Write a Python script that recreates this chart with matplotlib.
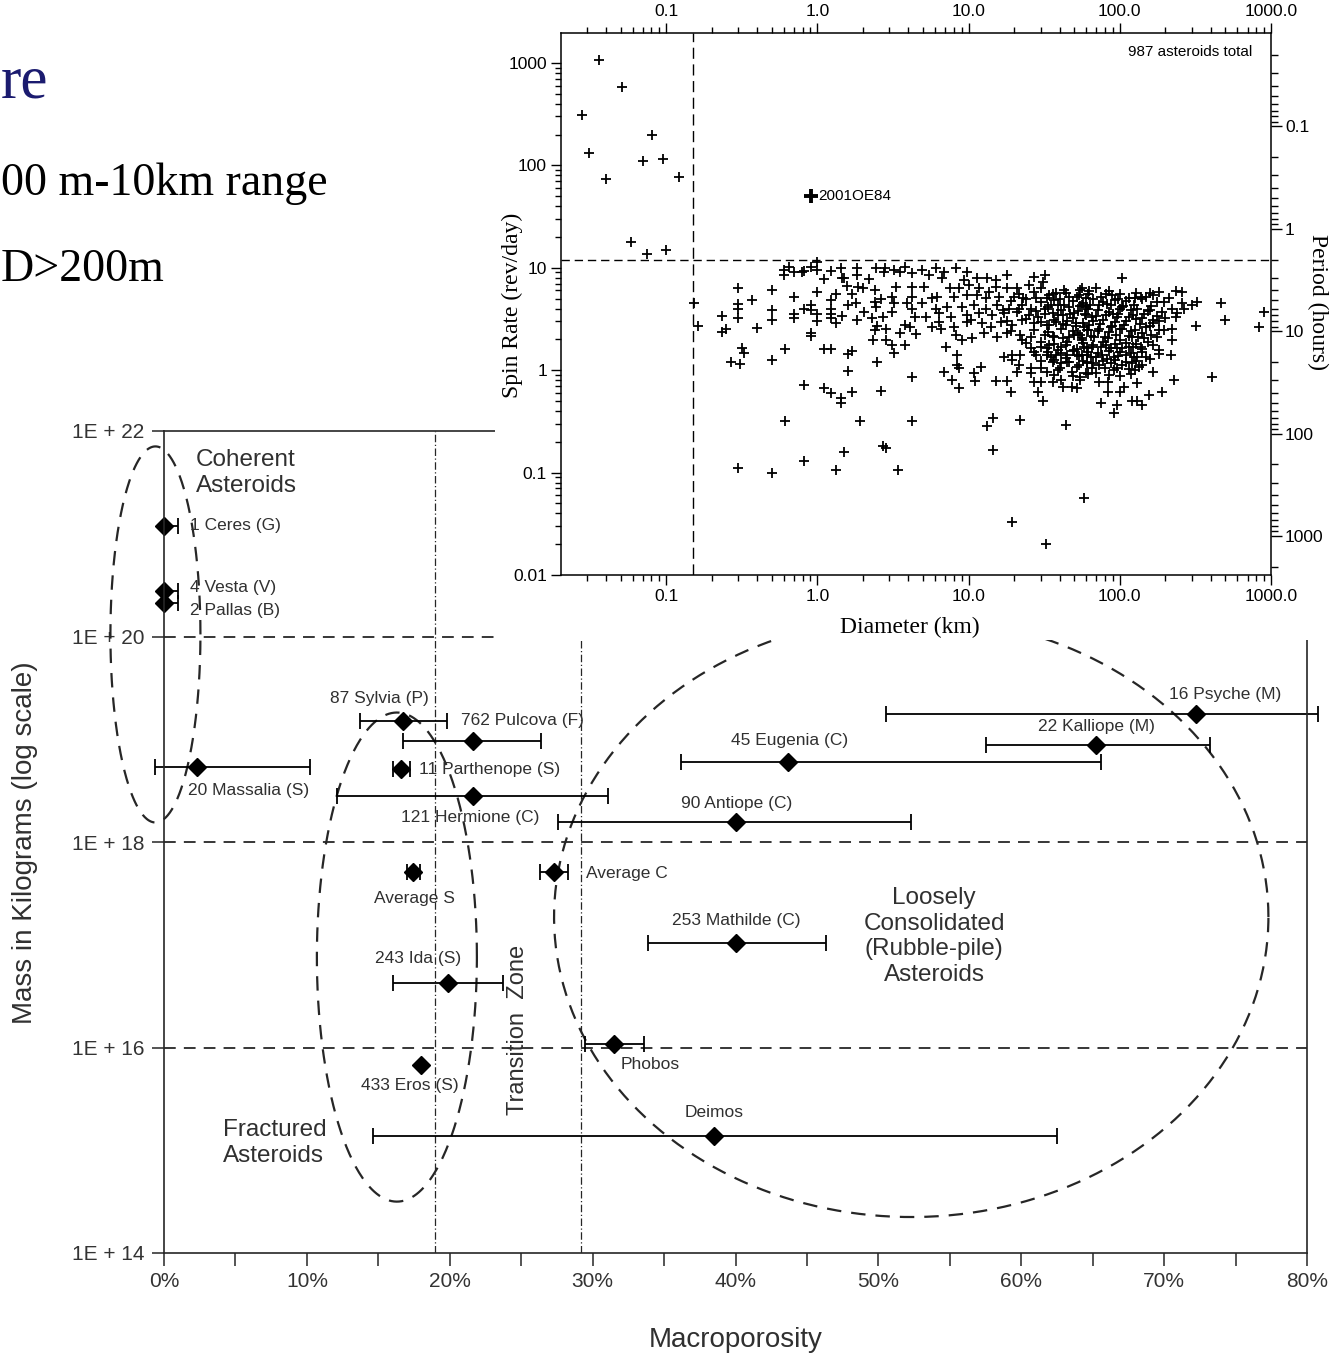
import numpy as np
import matplotlib
matplotlib.use('Agg')
import matplotlib.pyplot as plt
from matplotlib.patches import Rectangle
from matplotlib.ticker import FixedLocator, FuncFormatter, LogLocator, NullLocator

W, H = 1335, 1357
SANS = ['Liberation Sans', 'DejaVu Sans']
NARROW = ['Liberation Sans Narrow', 'Liberation Sans', 'DejaVu Sans']
SERIF = ['Liberation Serif', 'DejaVu Serif']
INK = '#262626'
plt.rcParams['font.family'] = SANS

# ---- main chart: macroporosity (%) vs mass (kg) ----
names = ['1 Ceres (G)', '4 Vesta (V)', '2 Pallas (B)', '20 Massalia (S)', '87 Sylvia (P)',
         '762 Pulcova (F)', '11 Parthenope (S)', '121 Hermione (C)', 'Average S', 'Average C',
         '253 Mathilde (C)', '243 Ida (S)', '433 Eros (S)', 'Phobos', 'Deimos',
         '16 Psyche (M)', '22 Kalliope (M)', '45 Eugenia (C)', '90 Antiope (C)']
porosity = [0, 0, 0, 2.3, 16.7, 21.6, 16.6, 21.6, 17.4, 27.3,
            40.0, 19.9, 18.0, 31.5, 38.5, 72.2, 65.2, 43.7, 40.0]
mass = [1.2e21, 2.8e20, 2.1e20, 5.4e18, 1.5e19, 9.6e18, 5.1e18, 2.8e18, 5.1e17, 5.1e17,
        1.04e17, 4.2e16, 6.7e15, 1.07e16, 1.38e15, 1.76e19, 8.7e18, 6.0e18, 1.55e18]
porosity_lo = [0, 0, 0, -0.6, 13.7, 16.7, 16.0, 12.1, 17.0, 26.3,
               33.9, 16.0, 18.0, 29.5, 14.6, 50.5, 57.5, 36.2, 27.6]
porosity_hi = [1.0, 1.0, 1.0, 10.2, 19.8, 26.4, 17.2, 31.1, 17.9, 28.3,
               46.3, 23.7, 18.0, 33.6, 62.5, 80.8, 73.2, 65.6, 52.3]

# label offsets (points) and alignment for each object
label_pos = [(19, 0, 'left'), (19, 2, 'left'), (19, -5, 'left'), (-6.5, -17, 'left'),
             (-16.5, 16.5, 'center'), (-8.6, 15, 'left'), (13, 0, 'left'), (-1.4, -15.8, 'center'),
             (1.4, -19.4, 'center'), (23, -1.4, 'left'), (0.7, 16.5, 'center'), (-22, 18, 'center'),
             (-8, -14.4, 'center'), (5, -14.4, 'left'), (0, 16.5, 'center'), (21.6, 14.4, 'center'),
             (0.7, 13.7, 'center'), (0.7, 15.8, 'center'), (0.7, 13.7, 'center')]

# dashed region outlines: centre (%, log10 kg) and half axes
region_cx = [-0.6, 16.3, 52.3]
region_cy = [20.02, 16.88, 17.27]
region_a = [3.15, 5.6, 25.0]
region_b = [1.83, 2.38, 2.92]

# ---- inset: spin rate vs diameter ----
fast_d = [0.028, 0.036, 0.051, 0.031, 0.040, 0.081, 0.070, 0.096, 0.122, 0.059, 0.075, 0.10, 0.154, 0.163]
fast_s = [310, 1070, 580, 131, 73, 200, 110, 115, 77, 17.8, 13.5, 15, 4.5, 2.7]

small_d = [0.235, 0.235, 0.25, 0.30, 0.30, 0.30, 0.30, 0.37, 0.40, 0.32,
           0.33, 0.27, 0.31, 0.50, 0.50, 0.50, 0.50, 0.61, 0.61, 0.30,
           0.50, 0.70, 0.70, 0.70, 0.82, 0.82, 0.82, 0.91, 0.91, 0.91,
           0.91, 1.0, 1.0, 1.0, 1.1, 1.24, 1.24, 1.24, 1.24, 1.24,
           1.33, 1.33, 1.1, 1.24, 1.44, 1.44, 1.33, 1.5, 1.7, 1.6,
           1.6, 1.7, 1.93, 1.46, 1.6, 1.8, 1.7, 1.86, 2.0, 2.05,
           1.84, 1.58, 1.5, 2.2, 2.5, 2.65, 2.7, 2.85, 2.4, 2.4,
           2.45, 2.65, 2.3, 2.5, 2.4, 2.35, 2.85, 2.85, 2.7, 0.60,
           0.60, 0.65, 0.70, 0.79, 0.82, 0.91, 1.0, 1.0, 1.1, 1.24,
           1.44, 1.46, 1.84, 1.84, 2.45, 2.8, 2.77]
small_s = [3.4, 2.35, 2.55, 6.4, 4.4, 4.0, 3.2, 4.8, 2.6, 1.65,
           1.47, 1.2, 1.15, 6.0, 3.85, 3.1, 1.26, 1.6, 0.32, 0.11,
           0.10, 5.2, 3.5, 3.2, 0.71, 0.13, 4.0, 4.3, 3.85, 2.3,
           2.15, 5.8, 3.5, 3.0, 1.6, 1.6, 4.8, 4.0, 3.5, 3.2,
           5.6, 2.9, 0.67, 0.6, 0.53, 0.48, 0.105, 0.158, 0.61, 0.98,
           1.43, 1.53, 0.32, 3.4, 4.3, 4.5, 5.5, 6.5, 6.3, 3.7,
           3.1, 6.6, 7.9, 7.7, 1.2, 0.62, 0.18, 0.175, 6.0, 4.6,
           4.1, 5.0, 3.2, 2.7, 2.45, 1.96, 2.55, 1.96, 3.3, 9.5,
           8.5, 10.2, 9.0, 9.0, 9.3, 10.2, 11.3, 9.5, 7.7, 9.3,
           10, 7.9, 10, 8.5, 10, 10, 9.0]

mid_d = [3.2, 3.5, 3.8, 4.2, 4.95, 5.5, 6.1, 6.7, 6.9, 8.3, 9.7, 9.4, 11.4, 13.3, 15.3, 18.0, 27, 32, 31,
         3.3, 4.2, 5.1, 7.5, 8.7, 10.1, 11.8, 13.7, 15.3, 18, 21, 25, 30, 38, 43, 55,
         3.1, 4.25, 5.7, 6.2, 8.0, 9.7, 11.3, 13.1, 16, 20, 23, 28, 34, 46, 54,
         3.2, 3.9, 4.9, 6.1, 7.2, 9.0, 10.9, 13.1, 15.5, 18.6, 22.5, 26, 32, 39, 46, 56,
         3.1, 4.25, 4.4, 5.2, 6.4, 7.7, 9.7, 11.8, 14.4, 17.2, 21, 25, 29, 36, 42, 50, 60,
         3.8, 4.1, 5.7, 6.4, 6.6, 8.0, 9.7, 10.4, 12.3, 14.1, 16.5, 19.5, 22.5, 27, 33, 38, 44, 51, 58,
         3.5, 4.5, 8.3, 9.1, 10.6, 12.7, 15.5, 18, 22, 26, 32, 37, 42, 50, 56,
         3.1, 3.8, 3.2, 7.1, 22.5, 26, 30, 34, 39, 44, 50, 58, 28, 33, 38, 45, 52, 61, 8.4, 17.2, 19.5, 22,
         8.4, 8.7, 12.1, 19.5, 21.6, 26, 30, 36, 41, 46, 54, 61, 6.9, 10.9, 21, 26, 33, 39, 48, 60, 4.2,
         7.8, 11.1, 15.3, 18, 27, 30, 36, 41, 42, 48, 52, 8.6, 19, 29, 31, 55]
mid_s = [9.5, 9.0, 10.2, 8.9, 9.5, 8.5, 10, 7.9, 9.0, 10, 9.0, 7.6, 7.9, 7.9, 7.6, 8.5, 8.1, 8.5, 7.2,
         6.5, 6.5, 6.5, 6.3, 6.3, 6.8, 6.3, 5.8, 6.5, 6.3, 6.3, 6.8, 6.3, 5.65, 6.0, 6.0,
         5.2, 5.2, 5.05, 5.2, 5.2, 5.4, 5.4, 5.05, 5.2, 5.2, 5.05, 5.05, 5.4, 5.2, 5.4,
         4.5, 4.5, 4.5, 4.0, 4.1, 4.1, 4.3, 4.0, 4.3, 4.0, 4.3, 4.0, 4.0, 4.3, 4.1, 4.3,
         3.7, 4.0, 3.3, 3.3, 3.6, 3.3, 3.45, 3.6, 3.45, 3.6, 3.7, 3.45, 3.3, 3.6, 3.45, 3.6, 3.45,
         2.75, 2.65, 2.65, 2.95, 2.55, 2.65, 2.95, 3.1, 2.9, 2.65, 2.95, 2.75, 3.1, 2.9, 2.75, 2.95, 2.75, 2.9, 2.65,
         2.3, 2.25, 2.2, 1.96, 2.05, 2.3, 2.1, 2.3, 2.2, 2.1, 2.2, 2.1, 2.05, 2.2, 2.05,
         1.75, 1.75, 1.47, 1.68, 1.96, 1.64, 1.68, 1.75, 1.57, 1.75, 1.57, 1.68, 1.4, 1.4, 1.4, 1.4, 1.4, 1.4, 1.4, 1.34, 1.4, 1.4,
         1.12, 1.05, 1.07, 1.25, 1.12, 1.05, 1.05, 1.2, 1.17, 1.2, 1.12, 1.2, 0.96, 0.94, 0.96, 0.94, 0.96, 1.0, 0.96, 0.94, 0.85,
         0.8, 0.78, 0.78, 0.78, 0.76, 0.76, 0.76, 0.8, 0.68, 0.68, 0.67, 0.67, 0.61, 0.61, 0.5, 0.8]

# the crowded core of the main-belt cloud
core_d = [21.5, 27, 36, 44, 62, 85, 101, 129, 167,
          19, 24, 30, 37, 49, 57, 67, 78, 93, 110, 141, 197,
          17, 21.5, 28, 33.5, 41, 53, 62, 72, 85, 101, 119, 153, 240,
          18, 24, 30, 37, 45, 49, 57, 67, 78, 93, 110, 129, 167, 181,
          19, 27, 33.5, 41, 49, 53, 62, 72, 85, 101, 119, 141, 197,
          24, 30, 37, 45, 57, 67, 78, 93, 110, 129, 153,
          27, 33.5, 41, 49, 62, 72, 85, 101, 119, 141, 181,
          30, 37, 45, 57, 67, 78, 93, 110, 129,
          37, 49, 62, 85, 101, 119]
core_s = [5.6, 5.8, 5.5, 5.7, 5.6, 5.9, 5.5, 5.7, 5.4,
          4.7, 4.9, 4.6, 4.8, 4.7, 4.5, 4.9, 4.6, 4.8, 4.7, 4.9, 4.6,
          3.9, 4.0, 3.8, 4.1, 3.9, 3.8, 4.0, 3.9, 3.7, 4.0, 3.9, 3.8, 3.6,
          3.05, 3.15, 2.95, 3.1, 3.0, 3.2, 2.9, 3.05, 3.1, 2.95, 3.05, 3.15, 2.9, 3.0,
          2.4, 2.45, 2.35, 2.5, 2.4, 2.3, 2.45, 2.4, 2.35, 2.5, 2.4, 2.3, 2.45,
          1.85, 1.9, 1.8, 1.88, 1.85, 1.78, 1.9, 1.82, 1.86, 1.8, 1.9,
          1.5, 1.52, 1.47, 1.55, 1.5, 1.46, 1.53, 1.5, 1.48, 1.52, 1.45,
          1.22, 1.25, 1.2, 1.24, 1.18, 1.22, 1.26, 1.2, 1.23,
          0.9, 0.88, 0.92, 0.9, 0.87, 0.91]
core2_d = [33, 40, 52, 60, 75, 97, 115, 150,
           35, 43, 55, 64, 82, 105, 125, 160,
           32, 39, 47, 59, 70, 90, 98, 122, 145, 175,
           34, 42, 51, 63, 74, 89, 107, 136, 158,
           36, 46, 55, 65, 80, 95, 115, 133, 162,
           33, 41, 52, 61, 75, 88, 104, 122, 140,
           35, 44, 54, 70, 82, 98, 125, 150,
           40, 52, 66, 80, 96, 115, 135]
core2_s = [5.1, 5.0, 5.2, 5.05, 5.15, 5.0, 5.1, 5.2,
           4.3, 4.35, 4.2, 4.3, 4.4, 4.25, 4.3, 4.2,
           3.5, 3.45, 3.55, 3.5, 3.4, 3.55, 3.5, 3.45, 3.5, 3.4,
           2.75, 2.8, 2.7, 2.75, 2.8, 2.7, 2.75, 2.8, 2.7,
           2.15, 2.1, 2.2, 2.15, 2.1, 2.2, 2.15, 2.1, 2.2,
           1.65, 1.7, 1.62, 1.66, 1.7, 1.64, 1.66, 1.7, 1.62,
           1.35, 1.32, 1.37, 1.35, 1.3, 1.36, 1.33, 1.35,
           1.05, 1.07, 1.04, 1.06, 1.05, 1.03, 1.07]

slow_d = [4.25, 13.3, 14.6, 22, 44, 14.6, 3.4, 58, 19.5, 32.6]
slow_s = [0.32, 0.284, 0.34, 0.325, 0.29, 0.165, 0.106, 0.057, 0.033, 0.020]

large_d = [103, 70, 56, 63, 81, 89, 126, 138, 158, 183, 212, 235, 258,
           177, 258, 300, 325, 470, 905, 265, 220, 190, 158, 130, 104, 88, 73, 60,
           235, 200, 165, 140, 115, 96, 81, 66, 320, 500, 835,
           220, 183, 150, 126, 104, 88, 73, 61,
           175, 145, 120, 100, 83, 68, 56, 220,
           183, 165, 138, 115, 96, 81, 66,
           218, 158, 130, 110, 92, 76, 65, 56,
           140, 120, 103, 88, 73, 61, 165, 126, 92, 70, 55,
           230, 410, 130, 107, 83, 73, 190, 155, 100, 83,
           120, 130, 140, 96, 75, 92]
large_s = [7.9, 6.3, 6.3, 5.9, 5.5, 5.4, 5.05, 5.2, 5.65, 5.8, 5.05, 5.9, 5.8,
           4.6, 4.5, 4.3, 4.6, 4.5, 3.7, 4.0, 4.0, 3.7, 3.85, 4.0, 4.1, 4.3, 4.3, 4.1,
           3.3, 3.2, 3.1, 3.2, 3.3, 3.3, 3.45, 3.3, 2.7, 3.1, 2.63,
           2.5, 2.45, 2.65, 2.45, 2.55, 2.65, 2.55, 2.45,
           2.1, 2.05, 2.1, 1.96, 2.05, 2.1, 1.96, 1.96,
           1.57, 1.75, 1.68, 1.68, 1.64, 1.75, 1.68,
           1.4, 1.3, 1.34, 1.4, 1.34, 1.4, 1.34, 1.4,
           1.12, 1.17, 1.12, 1.17, 1.12, 1.17, 0.96, 1.0, 1.0, 0.94, 0.85,
           0.8, 0.85, 0.75, 0.68, 0.76, 0.76, 0.61, 0.57, 0.61, 0.61,
           0.5, 0.5, 0.455, 0.455, 0.475, 0.38]

special_d, special_s = [0.91], [50]
period_ticks = [0.1, 1, 10, 100, 1000]
diam_ticks = [0.1, 1, 10, 100, 1000]
spin_ticks = [0.01, 0.1, 1, 10, 100, 1000]
mass_ticks = [1e14, 1e16, 1e18, 1e20, 1e22]
poros_ticks = list(range(0, 81, 10))

fig = plt.figure(figsize=(W / 100, H / 100), dpi=100)


def box(x0, y0, x1, y1):
    return [x0 / W, 1 - y1 / H, (x1 - x0) / W, (y1 - y0) / H]


# ---------------- main chart ----------------
ax = fig.add_axes(box(164, 431, 1307, 1253), zorder=1)
ax.set_xlim(0, 80)
ax.set_yscale('log')
ax.set_ylim(1e14, 1e22)
ax.set_yticks(mass_ticks)
ax.set_yticklabels(['1E + %d' % round(np.log10(v)) for v in mass_ticks])
ax.yaxis.set_minor_locator(NullLocator())
ax.set_xticks(poros_ticks)
ax.set_xticklabels(['%d%%' % v for v in poros_ticks])
ax.set_xticks(list(range(5, 80, 10)), minor=True)
ax.tick_params(which='both', direction='out', length=9, width=1.1, color=INK,
               labelsize=15, labelcolor='#333333', pad=5)
for s in ax.spines.values():
    s.set_linewidth(1.2)
    s.set_color(INK)

for v in mass_ticks[1:4]:
    ax.axhline(v, color=INK, lw=1.3, ls=(0, (6.5, 4.5)))
ax.axvline(19.0, color=INK, lw=0.9, ls=(0, (6, 2, 1, 2)))
ax.axvline(29.2, color=INK, lw=0.9, ls=(0, (6, 2, 1, 2)))

t = np.linspace(0, 2 * np.pi, 400)
for cx, cy, a, b in zip(region_cx, region_cy, region_a, region_b):
    ax.plot(cx + a * np.cos(t), 10 ** (cy + b * np.sin(t)), color=INK, lw=1.6,
            ls=(0, (6.5, 4.5)), clip_on=False)

for i, name in enumerate(names):
    eb = ax.errorbar(porosity[i], mass[i],
                     xerr=[[porosity[i] - porosity_lo[i]], [porosity_hi[i] - porosity[i]]],
                     fmt='D', color='black', ms=9, elinewidth=1.3, capsize=5.5, capthick=1.3)
    eb[0].set_clip_on(False)
    for art in list(eb[1]) + list(eb[2]):
        art.set_clip_on(False)
    dx, dy, ha = label_pos[i]
    ax.annotate(name, (porosity[i], mass[i]), xytext=(dx, dy), textcoords='offset points',
                ha=ha, va='center', fontsize=12.5, color='#303030')

ax.text(2.24, 3.9e21, 'Coherent\nAsteroids', fontsize=17.5, color='#303030',
        ha='left', va='center', linespacing=1.25)
ax.text(4.13, 1.17e15, 'Fractured\nAsteroids', fontsize=17.5, color='#303030',
        ha='left', va='center', linespacing=1.25)
ax.text(53.9, 1.2e17, 'Loosely\nConsolidated\n(Rubble-pile)\nAsteroids', fontsize=17.5,
        color='#303030', ha='center', va='center', linespacing=1.22)
ax.text(24.8, 1.48e16, 'Transition  Zone', fontsize=17, color='#303030',
        ha='center', va='center', rotation=90)

fig.text(25 / W, 1 - 843 / H, 'Mass in Kilograms (log scale)', rotation=90, fontsize=20,
         ha='center', va='center', color='#303030')
fig.text(736 / W, 1 - 1340 / H, 'Macroporosity', fontsize=20, ha='center', va='center',
         color='#303030')

# white panel under the inset
fig.add_artist(Rectangle((495 / W, 1 - 640 / H), 840 / W, 640 / H, transform=fig.transFigure,
                         facecolor='white', edgecolor='none', zorder=2))

# ---------------- inset ----------------
ax_in = fig.add_axes(box(561, 33, 1271, 575), zorder=3)
ax_in.set_xscale('log')
ax_in.set_yscale('log')
ax_in.set_xlim(0.0202, 1000)
ax_in.set_ylim(0.01, 1960)

for dd, ss in [(fast_d, fast_s), (small_d, small_s), (mid_d, mid_s), (core_d, core_s),
               (core2_d, core2_s), (slow_d, slow_s), (large_d, large_s)]:
    ax_in.plot(dd, ss, '+', color='black', ms=6.5, mew=1.3, ls='none')
ax_in.plot(special_d, special_s, '+', color='black', ms=10, mew=2.8, ls='none')
ax_in.annotate('2001OE84', (special_d[0], special_s[0]), xytext=(5, 0),
               textcoords='offset points', va='center', fontsize=11, family=NARROW)
ax_in.text(0.799, 0.965, '987 asteroids total', transform=ax_in.transAxes, fontsize=11,
           family=NARROW, va='center')

ax_in.axhline(11.9, color='black', lw=1.0, ls=(0, (6, 3.5)))
ax_in.axvline(0.151, color='black', lw=1.0, ls=(0, (8, 4)))

ax_in.xaxis.set_major_locator(FixedLocator(diam_ticks))
ax_in.xaxis.set_major_formatter(FuncFormatter(lambda v, p: '%.1f' % v))
ax_in.xaxis.set_minor_locator(LogLocator(base=10, subs=np.arange(2, 10)))
ax_in.yaxis.set_major_locator(FixedLocator(spin_ticks))
ax_in.yaxis.set_major_formatter(FuncFormatter(lambda v, p: '%g' % v))
ax_in.yaxis.set_minor_locator(LogLocator(base=10, subs=np.arange(2, 10)))
ax_in.tick_params(which='both', direction='out', top=True, labeltop=True, width=1.0)
ax_in.tick_params(which='major', length=7, labelsize=12.5, pad=3)
ax_in.tick_params(which='minor', length=4, labelleft=False, labelbottom=False, labeltop=False)
for s in ax_in.spines.values():
    s.set_linewidth(1.1)
ax_in.spines['right'].set_visible(False)

sec = ax_in.secondary_yaxis('right', functions=(lambda s: 24.0 / np.maximum(s, 1e-12),
                                                 lambda p: 24.0 / np.maximum(p, 1e-12)))
sec.set_yticks(period_ticks)
sec.yaxis.set_major_formatter(FuncFormatter(lambda v, p: '%g' % v))
sec.yaxis.set_minor_locator(LogLocator(base=10, subs=np.arange(2, 10)))
sec.tick_params(which='major', direction='out', length=8, width=1.0, labelsize=12.5, pad=2)
sec.tick_params(which='minor', direction='out', length=5, width=1.0)
sec.spines['right'].set_linewidth(1.1)

for lab in ax_in.get_xticklabels() + ax_in.get_yticklabels() + sec.get_yticklabels():
    lab.set_family(NARROW)

fig.text(512 / W, 1 - 305 / H, 'Spin Rate (rev/day)', rotation=90, fontsize=17,
         family=SERIF, ha='center', va='center')
fig.text(910 / W, 1 - 627 / H, 'Diameter (km)', fontsize=17, family=SERIF,
         ha='center', va='center')
fig.text(1318 / W, 1 - 302 / H, 'Period (hours)', rotation=270, fontsize=17, family=SERIF,
         ha='center', va='center')

# fragments of slide text at the left edge
fig.text(1 / W, 1 - 98 / H, 're', fontsize=44, family=SERIF, color='#1b1b6f',
         ha='left', va='baseline')
fig.text(1 / W, 1 - 195 / H, '00 m-10km range', fontsize=33, family=SERIF,
         ha='left', va='baseline')
fig.text(1 / W, 1 - 281 / H, 'D>200m', fontsize=33, family=SERIF,
         ha='left', va='baseline')

fig.savefig('out.png', dpi=100, facecolor='white')
